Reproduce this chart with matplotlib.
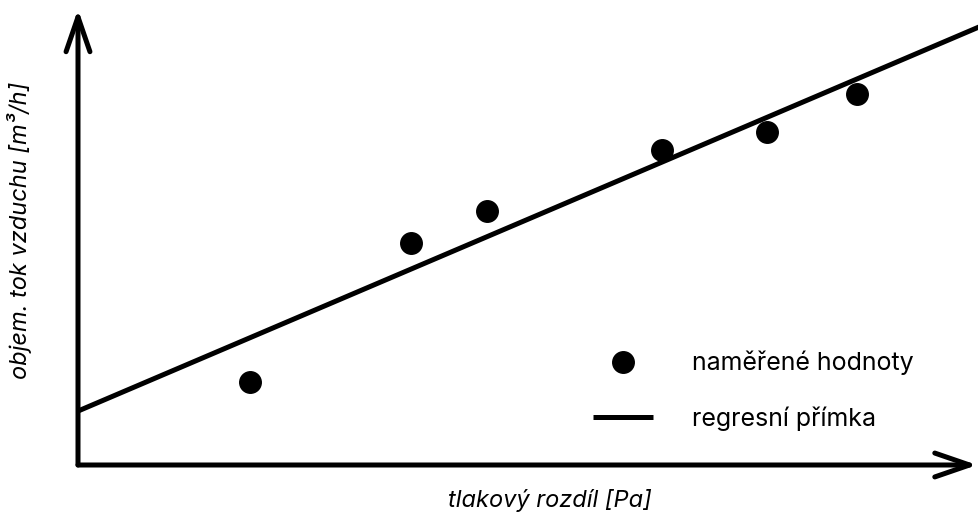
#!/usr/bin/env python3

import matplotlib

matplotlib.use('Agg')
import matplotlib.pyplot as plt


# measured points (arbitrary units, axes run 0..100)
pressure_diff = [19.1, 37.0, 45.4, 64.8, 76.5, 86.5]
air_flow = [17.8, 47.7, 54.6, 67.7, 71.6, 79.8]

# regression line
line_x = [0.0, 100.0]
intercept = 11.6
slope = 0.826

x_label = 'tlakový rozdíl [Pa]'
y_label = 'objem. tok vzduchu [m³/h]'
legend_labels = ['naměřené hodnoty', 'regresní přímka']

FONT = ['Inter', 'DejaVu Sans']
OUT = 'out.png'


def main():
    plt.rcParams['font.family'] = FONT

    fig = plt.figure(figsize=(9.79, 5.19), dpi=100)
    left = 78 / 979
    bottom = 54 / 519
    ax = fig.add_axes([left, bottom, 1 - left, 1 - bottom])
    ax.set_xlim(0, 100)
    ax.set_ylim(0, 100)
    ax.axis('off')

    line_y = [intercept + slope * x for x in line_x]
    ax.plot(line_x, line_y, color='black', linewidth=3.6,
            solid_capstyle='butt', label=legend_labels[1])
    ax.plot(pressure_diff, air_flow, 'o', color='black', markersize=15.5,
            linestyle='none', label=legend_labels[0], clip_on=False)

    arrow = dict(arrowstyle='->, head_length=2.5, head_width=0.86',
                 color='black', linewidth=3.6, capstyle='round',
                 joinstyle='round', shrinkA=0, shrinkB=0)
    ax.annotate('', xy=(0, 0.98), xytext=(0, 0),
                xycoords='axes fraction', arrowprops=arrow)
    ax.annotate('', xy=(0.998, 0), xytext=(0, 0),
                xycoords='axes fraction', arrowprops=arrow)

    fig.text(550 / 979, 1 - 500 / 519, x_label, ha='center', va='center',
             fontsize=17, style='italic')
    fig.text(20 / 979, 1 - 230 / 519, y_label, ha='center', va='center',
             fontsize=17, style='italic', rotation=90)

    handles, labels = ax.get_legend_handles_labels()
    ax.legend(handles[::-1], labels[::-1], loc='center left',
              bbox_to_anchor=(571 / 979, 1 - 391 / 519),
              bbox_transform=fig.transFigure, frameon=False,
              fontsize=18, handlelength=2.4, handletextpad=1.55,
              labelspacing=1.25)

    fig.savefig(OUT, dpi=100)
    plt.close(fig)
    return 0


if __name__ == '__main__':
    raise SystemExit(main())
